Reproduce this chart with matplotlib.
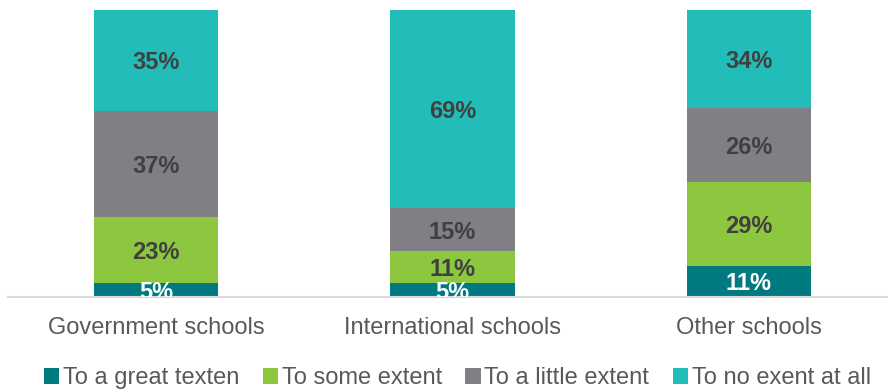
import matplotlib.pyplot as plt
import numpy as np

categories = ["Government schools", "International schools", "Other schools"]
series_names = ["To a great texten", "To some extent", "To a little extent", "To no exent at all"]
great = [5, 5, 11]
some = [23, 11, 29]
little = [37, 15, 26]
none_ = [35, 69, 34]
colors = ["#007a80", "#8dc63f", "#7f7f84", "#22bcb9"]
label_colors = ["white", "#404040", "#404040", "#404040"]

plt.rcParams['font.family'] = ['Liberation Sans', 'DejaVu Sans']
fig = plt.figure(figsize=(8.88, 3.91), dpi=100)
ax = fig.add_axes([0.009, 0.240, 0.991, 0.734])

x = np.arange(len(categories))
bottom = np.zeros(len(categories))
handles = []
for vals, name, col, lc in zip([great, some, little, none_], series_names, colors, label_colors):
    vals = np.array(vals, dtype=float)
    b = ax.bar(x, vals, 0.42, bottom=bottom, color=col, label=name)
    handles.append(b)
    for xi, v, bt in zip(x, vals, bottom):
        ax.text(xi, bt + v / 2 - 0.9, f"{int(v)}%", ha='center', va='center',
                fontsize=17, fontweight='bold', color=lc, clip_on=True)
    bottom += vals

ax.set_xlim(-0.5, 2.47)
ax.set_ylim(0, 100)
for s in ['top', 'right', 'left']:
    ax.spines[s].set_visible(False)
ax.spines['bottom'].set_color('#d9d9d9')
ax.spines['bottom'].set_linewidth(1.5)
ax.set_yticks([])
ax.set_xticks(x)
ax.set_xticklabels(categories, fontsize=17, color='#595959')
ax.tick_params(axis='x', length=0, pad=14)

fig.legend(handles=handles, labels=series_names, loc='center', bbox_to_anchor=(0.515, 0.033),
           ncol=4, frameon=False, fontsize=17, labelcolor='#595959',
           handlelength=0.65, handleheight=0.65, handletextpad=0.15, columnspacing=1.0)

fig.savefig("out.png", dpi=100)
